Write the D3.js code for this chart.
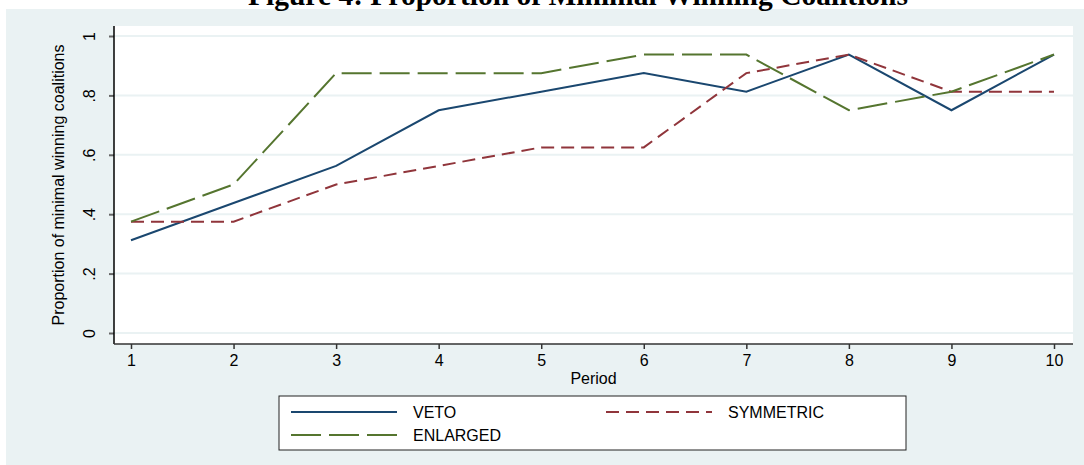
<!DOCTYPE html>
<html>
<head>
<meta charset="utf-8">
<script src="https://d3js.org/d3.v7.min.js"></script>
<style>
  body { margin: 0; background: #ffffff; }
  text { font-family: "Liberation Sans", Arial, sans-serif; fill: #000; }
</style>
</head>
<body>
<div id="chart"></div>
<script>

// data
var periods = [1, 2, 3, 4, 5, 6, 7, 8, 9, 10];
var veto      = [0.3125, 0.4375, 0.5625, 0.75, 0.8125, 0.875, 0.8125, 0.9375, 0.75, 0.9375];
var symmetric = [0.375, 0.375, 0.5, 0.5625, 0.625, 0.625, 0.875, 0.9375, 0.8125, 0.8125];
var enlarged  = [0.375, 0.5, 0.875, 0.875, 0.875, 0.9375, 0.9375, 0.75, 0.8125, 0.9375];
var yTicks = [0, 0.2, 0.4, 0.6, 0.8, 1];
var yTickLabels = ["0", ".2", ".4", ".6", ".8", "1"];
var seriesNames = ["VETO", "SYMMETRIC", "ENLARGED"];

var W = 1084, H = 465;
var plot = {left: 114, right: 1073, top: 26, bottom: 344};

var svg = d3.select("#chart").append("svg")
    .attr("width", W)
    .attr("height", H);

// graph region background (Stata s2color)
svg.append("rect")
    .attr("x", 6).attr("y", 9)
    .attr("width", W - 6).attr("height", H - 9)
    .attr("fill", "#eaf2f3");

// plot region
svg.append("rect")
    .attr("x", plot.left).attr("y", plot.top)
    .attr("width", plot.right - plot.left).attr("height", plot.bottom - plot.top)
    .attr("fill", "#ffffff");

var x = d3.scaleLinear().domain([1, 10]).range([131, 1054]);
var y = d3.scaleLinear().domain([0, 1]).range([333, 36]);

// gridlines
svg.append("g")
  .selectAll("line")
  .data(yTicks)
  .enter()
  .append("line")
    .attr("x1", plot.left).attr("x2", plot.right)
    .attr("y1", function(d) { return y(d); })
    .attr("y2", function(d) { return y(d); })
    .attr("stroke", "#eaf2f3")
    .attr("stroke-width", 2);

// Y axis
var yAxis = svg.append("g")
    .attr("transform", "translate(" + plot.left + ",0)")
    .call(d3.axisLeft(y).tickValues(yTicks)
          .tickFormat(function(d, i) { return yTickLabels[i]; })
          .tickSize(5));
yAxis.select(".domain").remove();
yAxis.selectAll(".tick line").attr("stroke", "#666").attr("stroke-width", 2);
yAxis.selectAll(".tick text")
    .attr("x", null).attr("dy", null)
    .attr("transform", "translate(-25,0) rotate(-90)")
    .attr("text-anchor", "middle")
    .attr("dominant-baseline", "central")
    .style("font-size", "16px")
    .style("font-family", "Liberation Sans, Arial, sans-serif");

// X axis
var xAxis = svg.append("g")
    .attr("transform", "translate(0," + plot.bottom + ")")
    .call(d3.axisBottom(x).tickValues(periods).tickFormat(d3.format("d"))
          .tickSize(5).tickPadding(6));
xAxis.select(".domain").remove();
xAxis.selectAll(".tick line").attr("stroke", "#333").attr("stroke-width", 1.5);
xAxis.selectAll(".tick text")
    .style("font-size", "16px")
    .style("font-family", "Liberation Sans, Arial, sans-serif");

// axis lines
svg.append("line")
    .attr("x1", plot.left).attr("x2", plot.left)
    .attr("y1", plot.top).attr("y2", plot.bottom)
    .attr("stroke", "#000").attr("stroke-width", 1.5);
svg.append("line")
    .attr("x1", plot.left).attr("x2", plot.right)
    .attr("y1", plot.bottom).attr("y2", plot.bottom)
    .attr("stroke", "#333").attr("stroke-width", 1.5);

// axis titles
svg.append("text")
    .attr("x", (plot.left + plot.right) / 2)
    .attr("y", 384)
    .attr("text-anchor", "middle")
    .style("font-size", "16px")
    .text("Period");

svg.append("text")
    .attr("transform", "translate(64," + ((plot.top + plot.bottom) / 2) + ") rotate(-90)")
    .attr("text-anchor", "middle")
    .style("font-size", "16px")
    .text("Proportion of minimal winning coalitions");

// title (clipped at top of the page, as in the source)
svg.append("text")
    .attr("x", 908)
    .attr("y", 5)
    .attr("text-anchor", "end")
    .style("font-family", "Liberation Serif, Times New Roman, serif")
    .style("font-weight", "bold")
    .style("font-size", "29.5px")
    .text("Figure 4: Proportion of Minimal Winning Coalitions");

// series lines
var series = [
  {name: seriesNames[0], values: veto,      color: "#1a476f", dash: null},
  {name: seriesNames[1], values: symmetric, color: "#90353b", dash: "13,7"},
  {name: seriesNames[2], values: enlarged,  color: "#55752f", dash: "30,8"}
];

var line = d3.line()
    .x(function(d, i) { return x(periods[i]); })
    .y(function(d) { return y(d); });

svg.append("g")
  .selectAll("path")
  .data(series)
  .enter()
  .append("path")
    .attr("d", function(d) { return line(d.values); })
    .attr("fill", "none")
    .attr("stroke", function(d) { return d.color; })
    .attr("stroke-width", 2)
    .attr("stroke-dasharray", function(d) { return d.dash; })
    .attr("stroke-linejoin", "miter");

// legend
var legend = svg.append("g");
legend.append("rect")
    .attr("x", 279).attr("y", 396)
    .attr("width", 627).attr("height", 54)
    .attr("fill", "#ffffff")
    .attr("stroke", "#222")
    .attr("stroke-width", 1);

var legendPos = [
  {x: 291, y: 412},
  {x: 606, y: 412},
  {x: 291, y: 435}
];

series.forEach(function(s, i) {
  var p = legendPos[i];
  legend.append("line")
      .attr("x1", p.x).attr("x2", p.x + 106)
      .attr("y1", p.y).attr("y2", p.y)
      .attr("stroke", s.color)
      .attr("stroke-width", 2)
      .attr("stroke-dasharray", s.dash);
  legend.append("text")
      .attr("x", p.x + 122)
      .attr("y", p.y)
      .attr("dominant-baseline", "central")
      .style("font-size", "16px")
      .text(s.name);
});

</script>
</body>
</html>
